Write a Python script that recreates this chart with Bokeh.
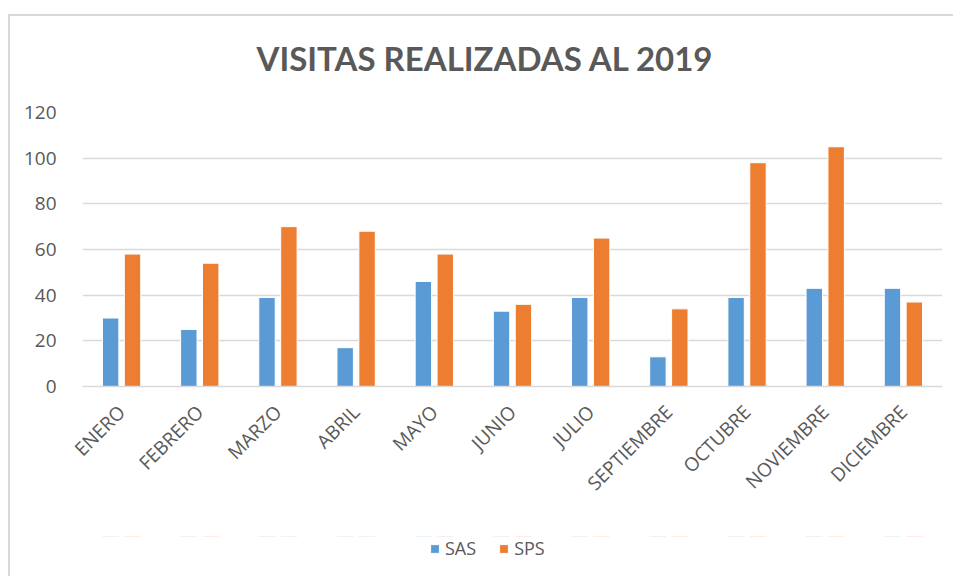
from bokeh.plotting import figure
from bokeh.models import ColumnDataSource, Range1d, FactorRange, FixedTicker, Legend, LegendItem, Label
from bokeh.layouts import column
from bokeh.transform import dodge
from bokeh.embed import file_html
from bokeh.resources import INLINE
import math

months = ["ENERO", "FEBRERO", "MARZO", "ABRIL", "MAYO", "JUNIO", "JULIO",
          "SEPTIEMBRE", "OCTUBRE", "NOVIEMBRE", "DICIEMBRE"]
sas = [30, 25, 39, 17, 46, 33, 39, 13, 39, 43, 43]
sps = [58, 54, 70, 68, 58, 36, 65, 34, 98, 105, 37]
y_ticks = [0, 20, 40, 60, 80, 100, 120]
title_text = "VISITAS REALIZADAS AL 2019"
series_names = ["SAS", "SPS"]
colors = ["#5b9bd5", "#ed7d31"]

source = ColumnDataSource(data=dict(month=months, sas=sas, sps=sps))

TXT = "#595959"
GRID = "#d9d9d9"
FONT = "Open Sans"


def strip(height, **kw):
    f = figure(width=943, height=height, output_backend="svg", toolbar_location=None,
               min_border=0, tools="", **kw)
    f.outline_line_color = None
    f.axis.visible = False
    f.grid.grid_line_color = None
    f.border_fill_color = "white"
    return f


# title strip
tp = strip(78)
tp.add_layout(Label(x=403, y=37, x_units="screen", y_units="screen", text=title_text,
                    text_align="center", text_baseline="middle", text_font="Lato",
                    text_font_size="33px", text_font_style="bold", text_color=TXT))

# main chart
p = figure(width=943, height=442, output_backend="svg", toolbar_location=None,
           x_range=FactorRange(*months), y_range=Range1d(0, 120),
           min_border_left=72, min_border_right=11, min_border_top=18,
           min_border_bottom=150, tools="")
p.outline_line_color = None
p.background_fill_color = "white"
p.border_fill_color = "white"

p.vbar(x=dodge("month", -0.14, range=p.x_range), top="sas", width=0.21,
       source=source, fill_color=colors[0], line_color="white", line_width=1)
p.vbar(x=dodge("month", 0.14, range=p.x_range), top="sps", width=0.21,
       source=source, fill_color=colors[1], line_color="white", line_width=1)

p.yaxis.ticker = FixedTicker(ticks=y_ticks)
p.yaxis.axis_line_color = None
p.yaxis.major_tick_line_color = None
p.yaxis.minor_tick_line_color = None
p.yaxis.major_label_standoff = 20
p.yaxis.major_label_text_font = FONT
p.yaxis.major_label_text_font_size = "19px"
p.yaxis.major_label_text_color = TXT

p.xaxis.axis_line_color = GRID
p.xaxis.axis_line_width = 1.5
p.xaxis.major_tick_line_color = None
p.xaxis.minor_tick_line_color = None
p.xaxis.major_label_orientation = math.pi / 4
p.xaxis.major_label_standoff = 16
p.xaxis.major_label_text_font = FONT
p.xaxis.major_label_text_font_size = "19px"
p.xaxis.major_label_text_color = TXT

p.xgrid.grid_line_color = None
p.ygrid.grid_line_color = GRID
p.ygrid.grid_line_width = 1.5

# legend strip: same series drawn far out of view, only the legend shows
lp = strip(40, x_range=p.x_range, y_range=Range1d(-1000, -999))
k1 = lp.vbar(x=dodge("month", -0.14, range=p.x_range), top="sas", width=0.21,
             source=source, fill_color=colors[0], line_color="white", line_width=1)
k2 = lp.vbar(x=dodge("month", 0.14, range=p.x_range), top="sps", width=0.21,
             source=source, fill_color=colors[1], line_color="white", line_width=1)

legend = Legend(items=[LegendItem(label=series_names[0], renderers=[k1]),
                       LegendItem(label=series_names[1], renderers=[k2])],
                location=(347, 16), orientation="horizontal")
legend.border_line_color = None
legend.background_fill_alpha = 0
legend.padding = 0
legend.margin = 0
legend.glyph_width = 11
legend.glyph_height = 11
legend.label_standoff = 5
legend.spacing = 22
legend.label_text_font = FONT
legend.label_text_font_size = "18px"
legend.label_text_color = TXT
lp.add_layout(legend, "center")

layout = column(tp, p, lp, spacing=0)
layout.styles = {"border-left": "2px solid #d9d9d9", "border-top": "2px solid #d9d9d9",
                 "margin-left": "8px", "margin-top": "14px"}

open("out.html", "w").write(file_html(layout, INLINE))
